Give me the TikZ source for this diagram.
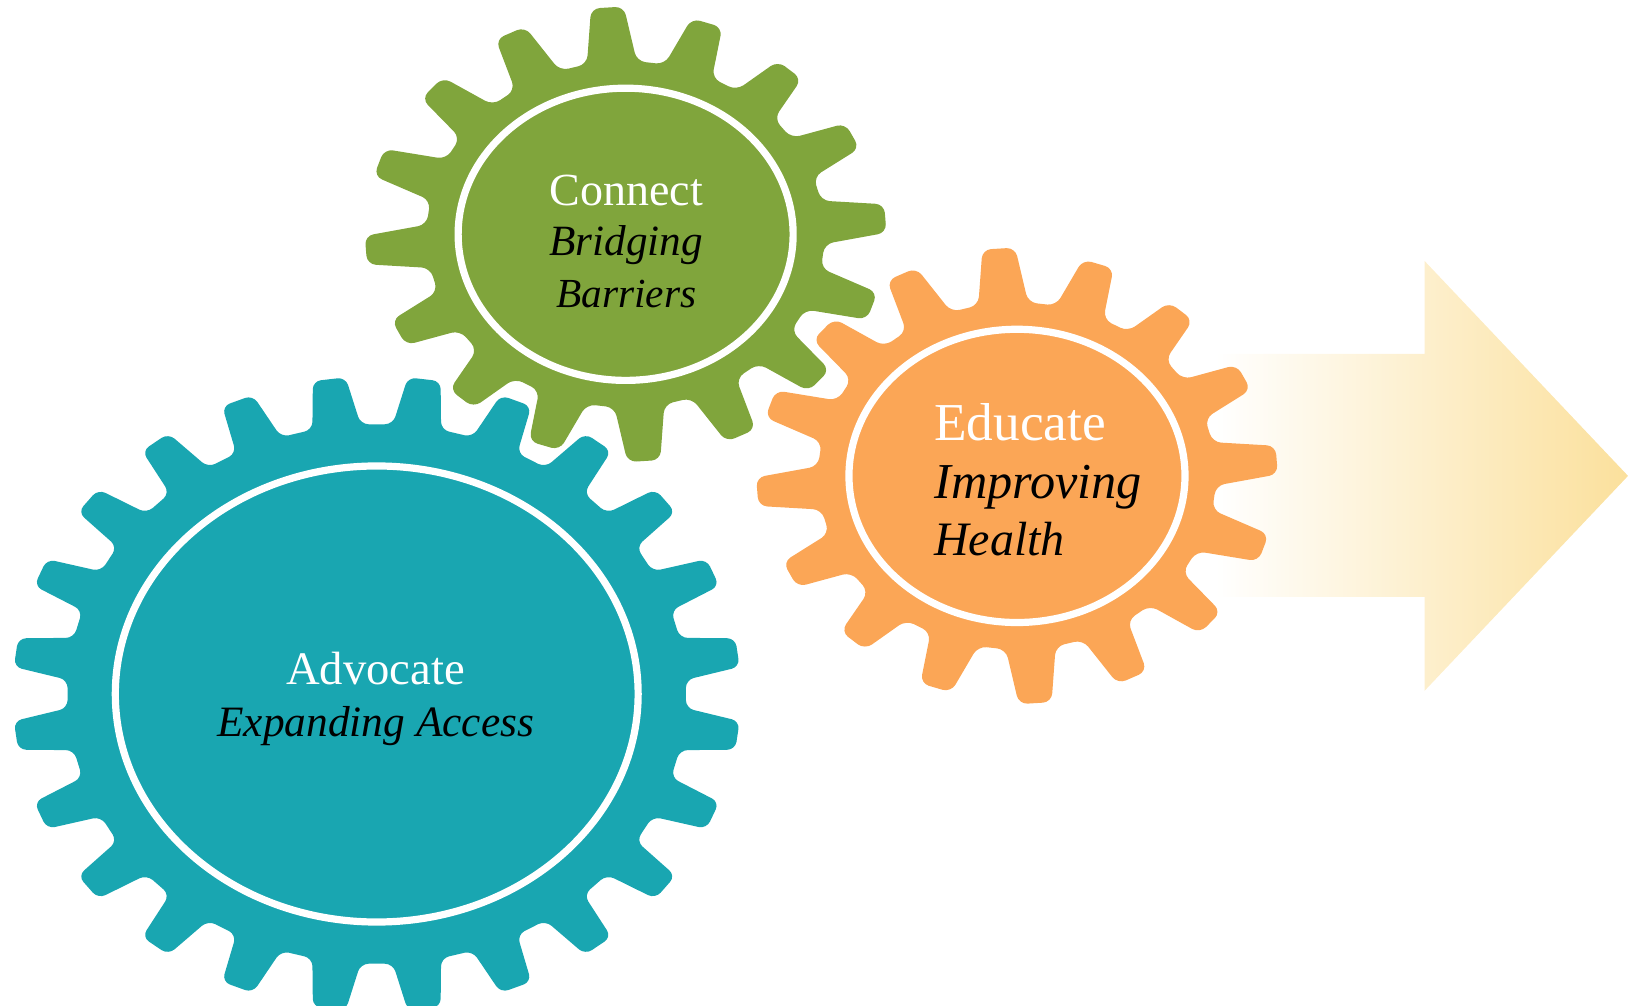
\documentclass[tikz,border=0pt]{standalone}
\usepackage{fontspec}
\setmainfont{Liberation Serif}
\definecolor{gearblue}{HTML}{19A6B1}
\definecolor{geargreen}{HTML}{80A53C}
\definecolor{gearorange}{HTML}{FBA656}
\definecolor{arrowend}{HTML}{FBE09C}
\newcommand{\drawgear}[9]{%
  % style, cx, cy, rx, ry, teeth, offset, root ratio, base half-angle
  \fill[#1]
    ({#2+#8*cos(180/#6-#9)*#4*cos(#7-180/#6)},{#3-#8*cos(180/#6-#9)*#5*sin(#7-180/#6)})
    foreach \k [evaluate=\k as \a using {#7+\k*360/#6},
                evaluate=\k as \f using {1-\gearDent*pow(sin(2*(#7+\k*360/#6)),2)-\gearSkew*sin(2*(#7+\k*360/#6))}] in {0,...,\numexpr#6-1\relax} {
      -- ({#2+#8*#4*cos(\a-#9)},{#3-#8*#5*sin(\a-#9)})
      -- ({#2+\f*#4*cos(\a-\gearTip)},{#3-\f*#5*sin(\a-\gearTip)})
      -- ({#2+\f*#4*cos(\a+\gearTip)},{#3-\f*#5*sin(\a+\gearTip)})
      -- ({#2+#8*#4*cos(\a+#9)},{#3-#8*#5*sin(\a+#9)})
    } -- cycle;
}
\tikzset{
  gearbody/.style={rounded corners=6.5pt},
  ring/.style={draw=white,line width=5.4pt,fill=none},
  headtext/.style={text=white,anchor=base,inner sep=0pt},
  subtext/.style={text=black,anchor=base,inner sep=0pt,font=\itshape},
  lefttext/.style={anchor=base west}
}
\newcommand{\fs}[1]{\fontsize{#1}{#1}\selectfont}
\begin{document}
\begin{tikzpicture}[x=0.7827pt,y=-0.7827pt]
\useasboundingbox (0,0) rectangle (1560,963.3);
% arrow
\shade[left color=white,right color=arrowend,shading angle=90]
  (1165,339) -- (1365,339) -- (1365,250) -- (1560,456) -- (1365,662) -- (1365,572) -- (1165,572) -- cycle;
% gears
\def\gearTip{2.6}\def\gearDent{0}\def\gearSkew{0}
\drawgear{gearbody,gearblue,rounded corners=6pt}{361}{665}{349}{304.5}{24}{7.5}{0.85}{4.5}
\def\gearTip{3.6}\def\gearDent{0.03}\def\gearSkew{0.012}
\drawgear{gearbody,geargreen}{599.5}{224.5}{250.5}{218}{16}{4}{0.762}{7.2}
\drawgear{gearbody,gearorange}{974.5}{456}{250.5}{218.5}{16}{4}{0.762}{7.2}
% rings
\draw[ring] (361,665) ellipse [x radius=250.5,y radius=218.5];
\draw[ring] (599.5,224.5) ellipse [x radius=160.5,y radius=140];
\draw[ring] (974.5,456) ellipse [x radius=161,y radius=140.5];
% labels
\node[headtext] (connect) at (600,196.5) {\fs{34.5}Connect};
\node[subtext] (bridging) at (600,245) {\fs{32.4}Bridging};
\node[subtext] (barriers) at (600,295) {\fs{31}Barriers};
\node[headtext,lefttext] (educate) at (895,422) {\fs{40}Educate};
\node[subtext,lefttext] (improving) at (895,478) {\fs{37.7}Improving};
\node[subtext,lefttext] (health) at (895,532) {\fs{36}Health};
\node[headtext] (advocate) at (360,656) {\fs{35}Advocate};
\node[subtext] (expanding) at (360,706) {\fs{32.5}Expanding Access};
\end{tikzpicture}
\end{document}
